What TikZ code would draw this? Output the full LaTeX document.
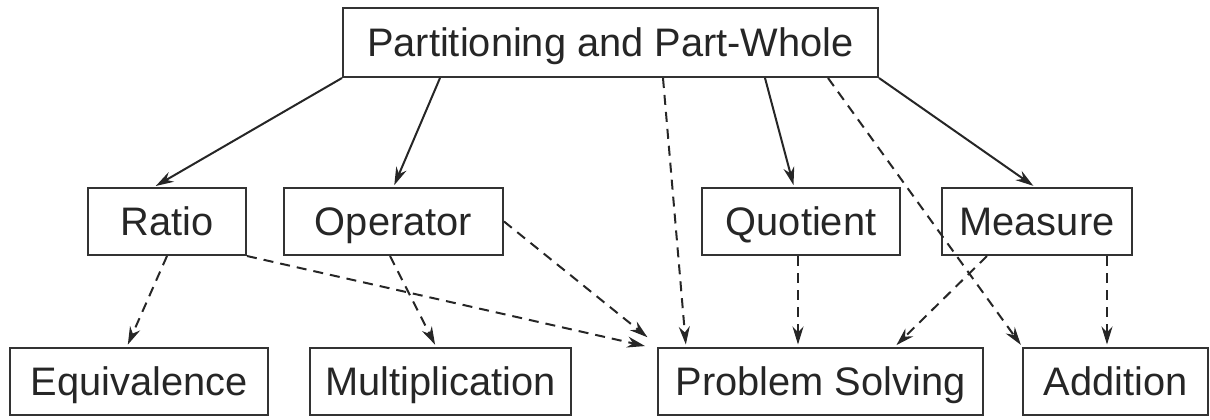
\documentclass[tikz,border=0pt]{standalone}
\usepackage{fontspec}
\setmainfont{Liberation Sans}
\usetikzlibrary{arrows.meta}

\tikzset{
  box/.style={draw=black!80, line width=1pt, inner sep=0pt, text=black!85,
    font=\fontsize{19.9}{24}\selectfont, text height=14.25pt, text depth=0pt,
    minimum height=33.5pt},
  link/.style={draw=black!85, line width=1pt, -{Stealth[length=9pt,width=5.5pt]}, shorten >=1pt},
  maybe/.style={link, dash pattern=on 5pt off 3.5pt}
}

\begin{document}
\begin{tikzpicture}[x=0.5pt, y=-0.5pt]
  \useasboundingbox (0,0) rectangle (1210,419);

  % concepts
  \node[box, minimum width=267.5pt, minimum height=34.5pt] (pw) at (610.5,42.5) {Partitioning and Part-Whole};

  \node[box, minimum width=79pt] (ratio) at (167,221.5) {Ratio};
  \node[box, minimum width=109.5pt] (oper) at (393.5,221.5) {Operator};
  \node[box, minimum width=99pt] (quot) at (801,221.5) {Quotient};
  \node[box, minimum width=95pt] (meas) at (1037,221.5) {Measure};

  \node[box, minimum width=129pt] (equiv) at (139,381) {Equivalence};
  \node[box, minimum width=130.5pt] (mult) at (440.5,381) {Multiplication};
  \node[box, minimum width=162.5pt] (ps) at (820.5,381) {Problem Solving};
  \node[box, minimum width=92.5pt] (add) at (1115.5,381) {Addition};

  % solid links
  \draw[link] (pw.south west) -- ([xshift=-6.5pt]ratio.north);
  \draw[link] ([xshift=-85.25pt]pw.south) -- (oper.north);
  \draw[link] ([xshift=77.25pt]pw.south) -- ([xshift=-3.5pt]quot.north);
  \draw[link] (pw.south east) -- ([xshift=-1pt]meas.north);

  % dashed links
  \draw[maybe] ([xshift=26.25pt]pw.south) -- ([xshift=-67.25pt]ps.north);
  \draw[maybe] ([xshift=108.75pt]pw.south) -- (add.north west);
  \draw[maybe] (ratio.south) -- ([xshift=-6pt]equiv.north);
  \draw[maybe] (ratio.south east) -- ([xshift=-5pt]ps.north west);
  \draw[maybe] ([xshift=-1.75pt]oper.south) -- ([xshift=-2.25pt]mult.north);
  \draw[maybe] (oper.east) -- ([xshift=-4pt,yshift=4pt]ps.north west);
  \draw[maybe] ([xshift=-1.5pt]quot.south) -- ([xshift=-11.25pt]ps.north);
  \draw[maybe] ([xshift=-25pt]meas.south) -- ([xshift=37.25pt]ps.north);
  \draw[maybe] ([xshift=35pt]meas.south) -- ([xshift=-4.25pt]add.north);
\end{tikzpicture}
\end{document}
